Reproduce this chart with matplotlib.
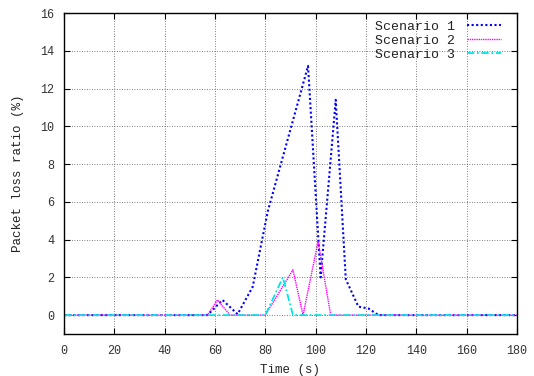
import numpy as np
import matplotlib
matplotlib.use('Agg')
import matplotlib.pyplot as plt

plt.rcParams['font.family'] = ['Liberation Mono', 'DejaVu Sans Mono']
plt.rcParams['font.size'] = 9

# Dados
t1 = [0, 57, 63, 69, 75, 81, 97, 102, 108, 112, 117, 121, 125, 180]
s1 = [0, 0, 0.8, 0.05, 1.5, 5.5, 13.2, 2.0, 11.4, 1.9, 0.45, 0.35, 0, 0]

t2 = [0, 57, 61, 66, 80, 91, 95, 101, 106, 180]
s2 = [0, 0, 0.8, 0, 0, 2.4, 0, 3.9, 0, 0]

t3 = [0, 80, 87, 91, 180]
s3 = [0, 0, 2.0, 0, 0]

labels = ['Scenario 1', 'Scenario 2', 'Scenario 3']

fig = plt.figure(figsize=(5.34, 3.76), dpi=100)
ax = fig.add_axes([0.1199, 0.1117, 0.848, 0.8537])

ax.plot(t1, s1, color='#0000ff', linestyle=(0, (1, 1.2)), linewidth=1.5, label=labels[0])
ax.plot(t2, s2, color='#ff00ff', linestyle=(0, (1, 0.6)), linewidth=1.0, label=labels[1])
ax.plot(t3, s3, color='#00e5e5', linestyle=(0, (4, 1.5, 1, 1.5)), linewidth=1.3, label=labels[2])

ax.set_xlim(0, 180)
ax.set_ylim(-1, 16)
ax.set_xticks(np.arange(0, 181, 20))
ax.set_yticks(np.arange(0, 17, 2))
ax.grid(True, color='#555555', linestyle=(0, (1, 2)), linewidth=0.6)
ax.tick_params(direction='in', top=True, right=True, length=4, color='black',
               labelcolor='#333333', labelsize=8.5)
ax.tick_params(axis='x', pad=8)
ax.tick_params(axis='y', pad=7)
for sp in ax.spines.values():
    sp.set_linewidth(1.0)

ax.set_xlabel('Time (s)', labelpad=5, color='#222222')
ax.set_ylabel('Packet loss ratio (%)', labelpad=12, color='#222222')

leg = ax.legend(loc='upper right', bbox_to_anchor=(0.965, 0.976), frameon=False,
                markerfirst=False, handlelength=2.6, labelspacing=0.12,
                borderaxespad=0, borderpad=0, handletextpad=0.85, fontsize=9.5)
for txt in leg.get_texts():
    txt.set_color('#222222')

plt.savefig('out.png', dpi=100)
